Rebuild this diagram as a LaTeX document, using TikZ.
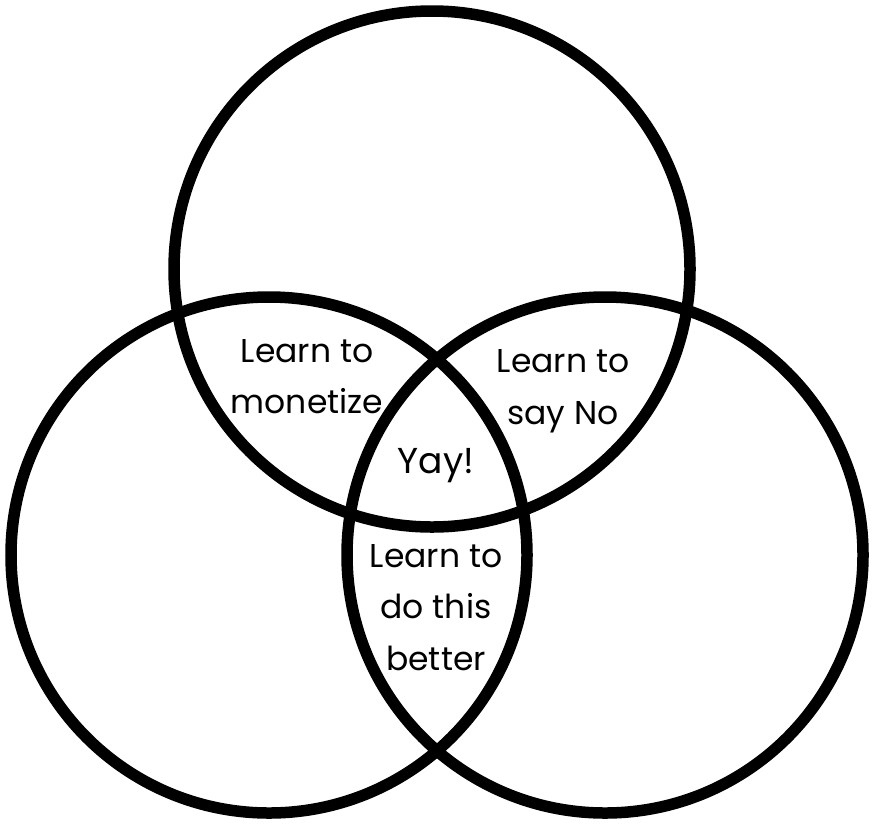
\documentclass[tikz,border=0pt]{standalone}
\usepackage{fontspec}
\setmainfont{Poppins}
\begin{document}
\begin{tikzpicture}[x=1pt,y=-1pt,
  ring/.style={draw=black,line width=11.5pt,circle,minimum size=516pt,inner sep=0pt},
  lbl/.style={anchor=base,inner sep=0pt,font=\fontsize{33}{38}\selectfont}]
\useasboundingbox (0,0) rectangle (874,825);
\fill[white] (0,0) rectangle (874,825);
\node[ring] (top) at (432,269) {};
\node[ring] (left) at (269,555) {};
\node[ring] (right) at (605,555) {};
\node[lbl] (m1) at (307,362) {Learn to};
\node[lbl] (m2) at (307,413) {monetize};
\node[lbl] (n1) at (563,372) {Learn to};
\node[lbl] (n2) at (563,424) {say No};
\node[lbl,font=\fontsize{36}{40}\selectfont] (y) at (436,473) {Yay!};
\node[lbl] (b1) at (436,567) {Learn to};
\node[lbl] (b2) at (436,618) {do this};
\node[lbl] (b3) at (436,670) {better};
\end{tikzpicture}
\end{document}
